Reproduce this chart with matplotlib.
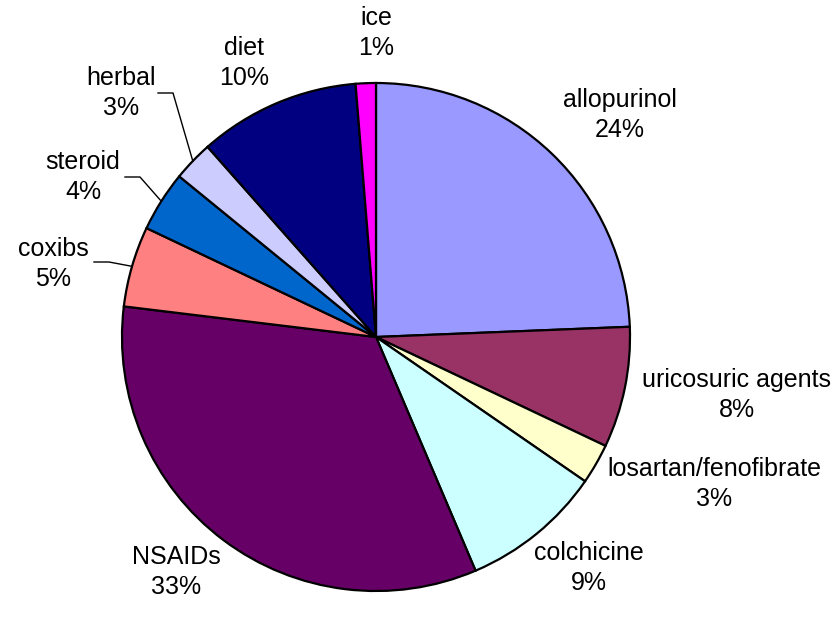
import matplotlib.pyplot as plt
import numpy as np

plt.rcParams['font.family'] = ['Liberation Sans', 'DejaVu Sans']

labels = ["allopurinol", "uricosuric agents", "losartan/fenofibrate", "colchicine",
          "NSAIDs", "coxibs", "steroid", "herbal", "diet", "ice"]
counts = [19, 6, 2, 7, 26, 4, 3, 2, 8, 1]
colors = ["#9999FF", "#993366", "#FFFFCC", "#CCFFFF", "#660066",
          "#FF8080", "#0066CC", "#CCCCFF", "#000080", "#FF00FF"]

# label block centres in pixels (x, y from top)
label_px = [(620, 115), (737, 395), (714, 484), (589, 568), (176, 572),
            (53, 264), (83, 177), (121, 93), (244, 63), (376, 33)]
# leader line stubs (pixels) for the thin slices on the left
leaders = {"coxibs": (94, 262), "steroid": (125, 177), "herbal": (158, 93)}

W, H = 839, 617
cx, cy, R = 376, 337, 254


def px(x, y):
    return (x - cx) / R, (cy - y) / R


fig = plt.figure(figsize=(W / 100, H / 100), dpi=100)
ax = fig.add_axes([0, 0, 1, 1])
wedges, _ = ax.pie(counts, colors=colors, startangle=90, counterclock=False,
                   radius=1, wedgeprops=dict(edgecolor='black', linewidth=1.6))
ax.set_xlim(-cx / R, (W - cx) / R)
ax.set_ylim((cy - H) / R, cy / R)
ax.set_aspect('equal')
ax.axis('off')

total = sum(counts)
for w, lab, c, pos in zip(wedges, labels, counts, label_px):
    x, y = px(*pos)
    ax.text(x, y, f"{lab}\n{round(100 * c / total)}%", ha='center', va='center',
            fontsize=18, linespacing=1.35)
    if lab in leaders:
        sx, sy = px(*leaders[lab])
        mid = np.deg2rad((w.theta1 + w.theta2) / 2)
        ex, ey = np.cos(mid), np.sin(mid)
        kx = sx + 15 / R
        ax.plot([sx, kx, ex], [sy, sy, ey], color='black', lw=1.0)

fig.savefig("out.png", dpi=100)
